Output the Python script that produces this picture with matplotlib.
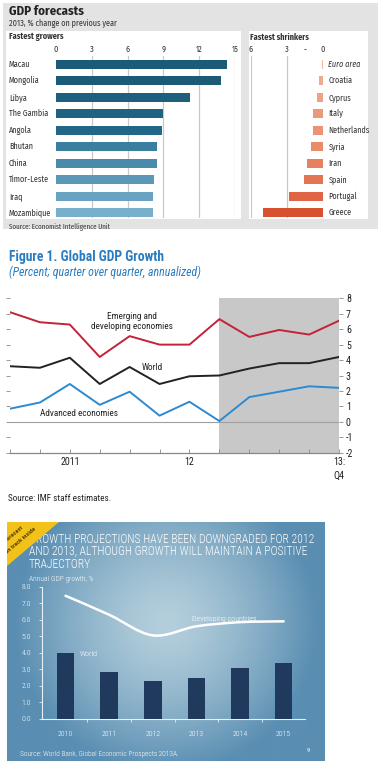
import numpy as np
import matplotlib
matplotlib.use("Agg")
import matplotlib.pyplot as plt
from matplotlib.patches import Rectangle, Polygon, PathPatch
from matplotlib.path import Path
from matplotlib.transforms import blended_transform_factory

plt.rcParams["axes.unicode_minus"] = False

# ---------------- data ----------------
grow_countries = ["Macau", "Mongolia", "Libya", "The Gambia", "Angola", "Bhutan",
                  "China", "Timor-Leste", "Iraq", "Mozambique"]
grow_values = [14.3, 13.8, 11.2, 9.0, 8.85, 8.5, 8.5, 8.25, 8.15, 8.15]
grow_ticks = [0, 3, 6, 9, 12, 15]

shrink_countries = ["Euro area", "Croatia", "Cyprus", "Italy", "Netherlands", "Syria",
                    "Iran", "Spain", "Portugal", "Greece"]
shrink_values = [-0.1, -0.3, -0.5, -0.8, -0.8, -1.0, -1.3, -1.6, -2.8, -5.0]
shrink_ticks = [-6, -3, -1.5, 0]
shrink_ticklabels = ["6", "3", "-", "0"]

imf_quarters = list(range(12))
imf_emerging = [7.1, 6.45, 6.3, 4.2, 5.55, 5.0, 5.0, 6.65, 5.5, 5.95, 5.65, 6.55]
imf_world = [3.6, 3.5, 4.15, 2.45, 3.55, 2.45, 2.95, 3.0, 3.45, 3.8, 3.8, 4.2]
imf_advanced = [0.85, 1.25, 2.45, 1.1, 1.95, 0.4, 1.3, 0.05, 1.6, 1.95, 2.3, 2.2]
imf_yticks = [-2, -1, 0, 1, 2, 3, 4, 5, 6, 7, 8]
imf_xlabel_pos = [2, 6, 11]
imf_xlabels = ["2011", "12", "13:\nQ4"]

wb_years = ["2010", "2011", "2012", "2013", "2014", "2015"]
wb_world = [4.0, 2.85, 2.3, 2.45, 3.1, 3.4]
wb_developing = [7.45, 6.3, 5.05, 5.6, 5.85, 5.9]
wb_yticks = [0.0, 1.0, 2.0, 3.0, 4.0, 5.0, 6.0, 7.0, 8.0]

# ---------------- figure ----------------
W, H = 380, 768
fig = plt.figure(figsize=(W / 100, H / 100), dpi=100)
fig.patch.set_facecolor("white")


def rect(x0, y0, x1, y1):
    return [x0 / W, 1 - y1 / H, (x1 - x0) / W, (y1 - y0) / H]


def ftext(x, y, s, **kw):
    return fig.text(x / W, 1 - y / H, s, **kw)


def frect(x0, y0, x1, y1, **kw):
    r = Rectangle((x0 / W, 1 - y1 / H), (x1 - x0) / W, (y1 - y0) / H,
                  transform=fig.transFigure, **kw)
    fig.patches.append(r)
    return r


ECO = ["Fira Sans Condensed", "DejaVu Sans"]
NARROW = ["Roboto Condensed", "DejaVu Sans"]
WB_FONT = ["Roboto Condensed", "DejaVu Sans"]

# ================= Panel 1: Economist =================
frect(3, 3, 378, 229, facecolor="#e3e3e3", edgecolor="none", zorder=-2)
frect(6, 31, 241, 219, facecolor="white", edgecolor="none", zorder=-1)
frect(249, 31, 368, 219, facecolor="white", edgecolor="none", zorder=-1)

ftext(9, 11, "GDP forecasts", fontsize=9.2, fontweight="bold", family=ECO,
      color="#222222", va="center")
ftext(9, 23.5, "2013, % change on previous year", fontsize=5.9, family=ECO,
      color="#333333", va="center")
ftext(9, 37, "Fastest growers", fontsize=5.9, fontweight="bold", family=ECO,
      color="#333333", va="center")
ftext(250, 37, "Fastest shrinkers", fontsize=5.9, fontweight="bold", family=ECO,
      color="#333333", va="center")
ftext(9, 227, "Source: Economist Intelligence Unit", fontsize=5.0, family=ECO,
      color="#333333", va="center")

grow_colors = ["#1b5b78", "#1b5b78", "#1d5f7d", "#1f6381", "#226886",
               "#3a7fa0", "#4a8aab", "#5b97b7", "#69a3c1", "#78afcb"]
shrink_colors = ["#f2b69b", "#f0ab8e", "#eea285", "#ec997b", "#eb9374",
                 "#e98a69", "#e6805e", "#e47554", "#df6546", "#d8502f"]

axg = fig.add_axes(rect(56, 56, 235, 218))
axg.set_facecolor("none")
yy = np.arange(len(grow_countries))
axg.barh(yy, grow_values, height=0.54, color=grow_colors, zorder=3)
axg.set_xlim(0, 15)
axg.set_ylim(len(grow_countries) - 1 + 0.32, -0.503)
axg.set_xticks(grow_ticks)
axg.xaxis.tick_top()
axg.tick_params(axis="x", length=0, pad=1.5, labelsize=5.9, labelcolor="#333333")
for lab in axg.get_xticklabels():
    lab.set_family(ECO)
axg.set_yticks([])
for t in grow_ticks[1:]:
    axg.axvline(t, color="#c9c9c9", lw=0.9, zorder=1)
for s in axg.spines.values():
    s.set_visible(False)
tr = blended_transform_factory(fig.transFigure, axg.transData)
for i, c in enumerate(grow_countries):
    axg.text(9 / W, i, c, transform=tr, fontsize=5.9, family=ECO,
             color="#333333", va="center", ha="left")

axs = fig.add_axes(rect(251, 56, 322.7, 218))
axs.set_facecolor("none")
axs.barh(yy, shrink_values, height=0.54, color=shrink_colors, zorder=3)
axs.set_xlim(-6, 0)
axs.set_ylim(len(shrink_countries) - 1 + 0.32, -0.503)
axs.set_xticks(shrink_ticks)
axs.set_xticklabels(shrink_ticklabels)
axs.xaxis.tick_top()
axs.tick_params(axis="x", length=0, pad=1.5, labelsize=5.9, labelcolor="#333333")
for lab in axs.get_xticklabels():
    lab.set_family(ECO)
axs.set_yticks([])
for t in [-6, -3]:
    axs.axvline(t, color="#c9c9c9", lw=0.9, zorder=1)
for s in axs.spines.values():
    s.set_visible(False)
tr2 = blended_transform_factory(fig.transFigure, axs.transData)
for i, c in enumerate(shrink_countries):
    axs.text(328.5 / W, i, c, transform=tr2, fontsize=5.9, family=ECO,
             color="#333333", va="center", ha="left",
             style="italic" if i == 0 else "normal")

# ================= Panel 2: IMF =================
BLUE_T = "#2a7cc0"
ftext(9, 257, "Figure 1. Global GDP Growth", fontsize=9.8, fontweight="bold",
      family=NARROW, color=BLUE_T, va="center")
ftext(9, 272, "(Percent; quarter over quarter, annualized)", fontsize=8.6,
      style="italic", family=NARROW, color=BLUE_T, va="center")
ftext(8, 498.5, "Source: IMF staff estimates.", fontsize=6.6, family=NARROW,
      color="#222222", va="center")

axm = fig.add_axes(rect(10, 298.3, 339, 452.7))
axm.set_facecolor("none")
axm.set_xlim(0, 11)
axm.set_ylim(-2, 8)
axm.axvspan(7, 11, color="#c8c8c8", lw=0, zorder=0)
axm.axhline(0, color="#a0a0a0", lw=0.8, zorder=1)
axm.plot(imf_quarters, imf_emerging, color="#c4213a", lw=1.4, zorder=3)
axm.plot(imf_quarters, imf_world, color="#222222", lw=1.4, zorder=3)
axm.plot(imf_quarters, imf_advanced, color="#2b8ad0", lw=1.4, zorder=3)
for s in ["top", "left", "right"]:
    axm.spines[s].set_visible(False)
axm.spines["bottom"].set_color("#888888")
axm.spines["bottom"].set_linewidth(0.9)
axm.set_yticks(imf_yticks)
axm.yaxis.set_ticks_position("both")
axm.tick_params(axis="y", which="both", direction="out", length=3, width=0.6,
                color="#888888", labelleft=False, labelright=True,
                labelsize=7.2, pad=2, labelcolor="#222222")
for lab in axm.get_yticklabels():
    lab.set_family(NARROW)
axm.set_xticks(imf_quarters)
axm.set_xticklabels([])
axm.tick_params(axis="x", direction="in", length=3, width=0.6, color="#888888")
trm = blended_transform_factory(axm.transData, fig.transFigure)
for p, lbl in zip(imf_xlabel_pos, imf_xlabels):
    axm.text(p, 1 - 457 / H, lbl, transform=trm, ha="center", va="top",
             fontsize=7.2, family=NARROW, color="#222222", linespacing=1.5,
             clip_on=False)
axm.text(131.7 / W, 1 - 321.5 / H, "Emerging and\ndeveloping economies",
         transform=fig.transFigure, ha="center", va="center", fontsize=6.7,
         family=NARROW, color="#222222", linespacing=1.2)
axm.text(141.5 / W, 1 - 367.5 / H, "World", transform=fig.transFigure,
         ha="left", va="center", fontsize=6.7, family=NARROW, color="#222222")
axm.text(40.5 / W, 1 - 413.5 / H, "Advanced economies", transform=fig.transFigure,
         ha="left", va="center", fontsize=6.7, family=NARROW, color="#222222")

# ================= Panel 3: World Bank =================
axbg = fig.add_axes(rect(7, 522, 325, 761))
axbg.set_axis_off()
ny, nx = 240, 320
gx = np.linspace(-1, 1, nx)
gy = np.linspace(-1, 1, ny)
GX, GY = np.meshgrid(gx, gy)
d = np.sqrt((GX / 0.95) ** 2 + ((GY + 0.15) / 1.25) ** 2)
d = np.clip(d, 0, 1)
c_light = np.array([0xb4, 0xcf, 0xdc]) / 255
c_dark = np.array([0x5a, 0x8e, 0xb2]) / 255
img = c_light[None, None, :] * (1 - d[..., None] ** 1.4) + c_dark[None, None, :] * d[..., None] ** 1.4
axbg.imshow(img, extent=[0, 1, 0, 1], aspect="auto", origin="upper", zorder=0)
axbg.set_xlim(0, 1)
axbg.set_ylim(0, 1)

# slide title (drawn inside the background axes so the corner banner covers it)
for (tx, ty, s, fs) in [(29, 539.5, "GROWTH PROJECTIONS HAVE BEEN DOWNGRADED FOR 2012", 8.35),
                        (29, 551.5, "AND 2013, ALTHOUGH GROWTH WILL MAINTAIN A POSITIVE", 8.35),
                        (29, 565, "TRAJECTORY", 8.35)]:
    axbg.text(tx / W, 1 - ty / H, s, transform=fig.transFigure, fontsize=fs,
              family=WB_FONT, fontweight="light", color="white", va="center",
              zorder=2)

bw, bh = 318, 239
tri = Polygon([(0, 1), (52 / bw, 1), (0, 1 - 44 / bh)], closed=True,
              facecolor="#f2c21a", edgecolor="none", transform=axbg.transAxes,
              zorder=3)
axbg.add_patch(tri)
axbg.text(7 / bw, 1 - 12 / bh, "Forecast", transform=axbg.transAxes, rotation=40,
          fontsize=4.6, fontweight="bold", color="#5a4300", ha="center",
          va="center", clip_on=True, family=NARROW, zorder=4)
axbg.text(14 / bw, 1 - 19 / bh, "on track inside", transform=axbg.transAxes,
          rotation=40, fontsize=4.6, fontweight="bold", color="#5a4300",
          ha="center", va="center", clip_on=True, family=NARROW, zorder=4)

ftext(29, 579.5, "Annual GDP growth, %", fontsize=5.4, family=WB_FONT,
      fontweight="light", color="white", va="center")
ftext(20, 754.5, "Source: World Bank, Global Economic Prospects 2013A.",
      fontsize=5.3, family=WB_FONT, fontweight="light", color="white", va="center")
ftext(307, 750.5, "9", fontsize=4.5, family=WB_FONT, color="white", va="center")

axw = fig.add_axes(rect(42, 586.7, 305, 718.7))
axw.set_facecolor("none")
xi = np.arange(len(wb_years))
axw.bar(xi, wb_world, width=0.4, color="#1f3a5c", zorder=3)
axw.set_xlim(-0.54, len(wb_years) - 0.51)
axw.set_ylim(0, 8)
pts = np.column_stack([xi, wb_developing]).astype(float)
verts = [tuple(pts[0])]
codes = [Path.MOVETO]
for i in range(len(pts) - 1):
    p0 = pts[max(i - 1, 0)]
    p1 = pts[i]
    p2 = pts[i + 1]
    p3 = pts[min(i + 2, len(pts) - 1)]
    c1 = p1 + (p2 - p0) / 6
    c2 = p2 - (p3 - p1) / 6
    verts += [tuple(c1), tuple(c2), tuple(p2)]
    codes += [Path.CURVE4] * 3
axw.add_patch(PathPatch(Path(verts, codes), facecolor="none", edgecolor="white",
                        lw=1.8, zorder=4, capstyle="round"))
for s in ["top", "right"]:
    axw.spines[s].set_visible(False)
for s in ["left", "bottom"]:
    axw.spines[s].set_color("#e8f0f4")
    axw.spines[s].set_linewidth(0.8)
axw.set_yticks(wb_yticks)
axw.set_yticklabels([f"{v:.1f}" for v in wb_yticks])
axw.tick_params(axis="y", length=2, width=0.6, color="#e8f0f4", labelsize=5.6,
                labelcolor="white", pad=6)
axw.set_xticks(xi)
axw.set_xticklabels(wb_years)
axw.tick_params(axis="x", length=0, labelsize=5.6, labelcolor="white", pad=9)
axw.set_xticks(xi[:-1] + 0.5, minor=True)
axw.tick_params(axis="x", which="minor", length=2, width=0.6, color="#e8f0f4")
for lab in axw.get_xticklabels() + axw.get_yticklabels():
    lab.set_family(WB_FONT)
    lab.set_fontweight("light")
axw.text(80 / W, 1 - 654 / H, "World", transform=fig.transFigure, fontsize=5.8,
         family=WB_FONT, fontweight="light", color="white", va="center", ha="left")
axw.text(192 / W, 1 - 619 / H, "Developing countries", transform=fig.transFigure,
         fontsize=5.8, family=WB_FONT, fontweight="light", color="white",
         va="center", ha="left")

fig.savefig("out.png", dpi=100, facecolor="white")
